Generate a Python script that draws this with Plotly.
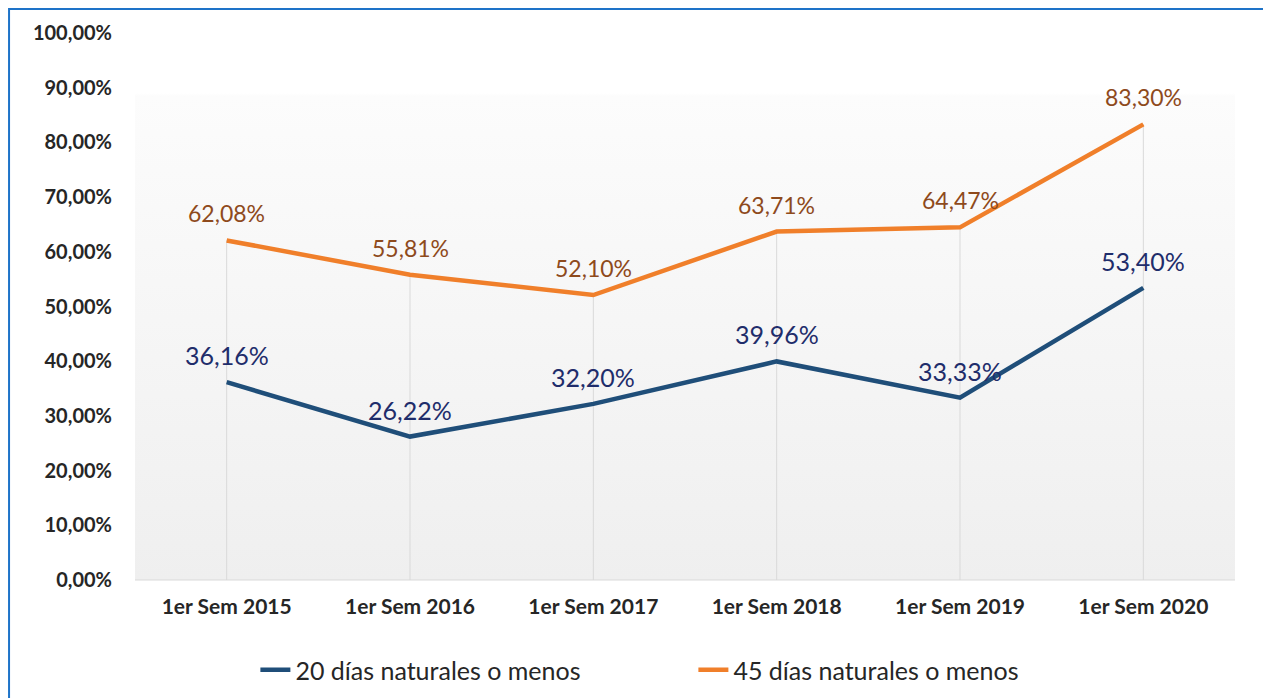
import plotly.graph_objects as go
import base64

categories = ["1er Sem 2015", "1er Sem 2016", "1er Sem 2017", "1er Sem 2018", "1er Sem 2019", "1er Sem 2020"]
serie_20 = [36.16, 26.22, 32.20, 39.96, 33.33, 53.40]
serie_45 = [62.08, 55.81, 52.10, 63.71, 64.47, 83.30]
names = ["20 días naturales o menos", "45 días naturales o menos"]
tick_vals = [0, 10, 20, 30, 40, 50, 60, 70, 80, 90, 100]

def fmt(v):
    return f"{v:.2f}".replace(".", ",") + "%"

fig = go.Figure()

# drop lines (from highest point of each category down to the axis)
drop_x, drop_y = [], []
for c, a, b in zip(categories, serie_20, serie_45):
    drop_x += [c, c, None]
    drop_y += [0, max(a, b), None]
fig.add_trace(go.Scatter(x=drop_x, y=drop_y, mode="lines", showlegend=False, hoverinfo="skip",
                         line=dict(color="#D9D9D9", width=1)))

fig.add_trace(go.Scatter(
    x=categories, y=serie_20, mode="lines", name=names[0],
    line=dict(color="#1F4E79", width=4.5),
))
fig.add_trace(go.Scatter(
    x=categories, y=serie_45, mode="lines", name=names[1],
    line=dict(color="#F07F2A", width=4.5),
))

annotations = []
for c, v in zip(categories, serie_20):
    annotations.append(dict(x=c, y=v, text=fmt(v), showarrow=False, yshift=27,
                            font=dict(family="Lato", size=25, color="#1F2D6B")))
for c, v in zip(categories, serie_45):
    annotations.append(dict(x=c, y=v, text=fmt(v), showarrow=False, yshift=27,
                            font=dict(family="Lato", size=23, color="#8E4A1C")))

svg = ('<svg xmlns="http://www.w3.org/2000/svg" width="100" height="100" preserveAspectRatio="none">'
       '<defs><linearGradient id="g" x1="0" y1="0" x2="0" y2="1">'
       '<stop offset="0" stop-color="#ffffff"/><stop offset="0.11" stop-color="#ffffff"/>'
       '<stop offset="0.115" stop-color="#fcfcfc"/><stop offset="1" stop-color="#efefef"/>'
       '</linearGradient></defs><rect width="100" height="100" fill="url(#g)"/></svg>')
uri = "data:image/svg+xml;base64," + base64.b64encode(svg.encode()).decode()

fig.update_layout(
    width=1263, height=698,
    margin=dict(l=135, r=28, t=33, b=118),
    paper_bgcolor="white", plot_bgcolor="rgba(0,0,0,0)",
    font=dict(family="Lato", color="#404040"),
    images=[dict(source=uri, xref="paper", yref="paper", x=0, y=1, sizex=1, sizey=1,
                 sizing="stretch", layer="below", xanchor="left", yanchor="top")],
    annotations=annotations,
    showlegend=True,
    legend=dict(orientation="h", xref="container", yref="container",
                x=0.549, y=0.04, xanchor="center", yanchor="middle",
                font=dict(family="Lato", size=25, color="#262626"),
                entrywidth=393, entrywidthmode="pixels",
                bgcolor="rgba(0,0,0,0)", tracegroupgap=0),
    xaxis=dict(range=[-0.5, 5.5], showgrid=False, showline=False, zeroline=False,
               automargin=False,
               tickfont=dict(family="Lato", size=21, color="#262626", weight="bold"),
               ticklabelstandoff=12),
    yaxis=dict(range=[0, 100], tickvals=tick_vals, ticktext=[fmt(v) for v in tick_vals],
               showgrid=False, zeroline=False, showline=False, automargin=False,
               tickfont=dict(family="Lato", size=20, color="#262626", weight="bold"),
               ticklabelstandoff=22),
    shapes=[dict(type="line", xref="paper", yref="paper", x0=0, x1=1, y0=0, y1=0,
                 line=dict(color="#D9D9D9", width=1)),
            dict(type="rect", xref="paper", yref="paper", x0=-0.1145, x1=1.2, y0=-0.3, y1=1.0439,
                 line=dict(color="#1E73C8", width=2), layer="above")],
)
fig.write_html("out.html", config={"displayModeBar": False},
               post_script="document.body.style.margin='0';")
